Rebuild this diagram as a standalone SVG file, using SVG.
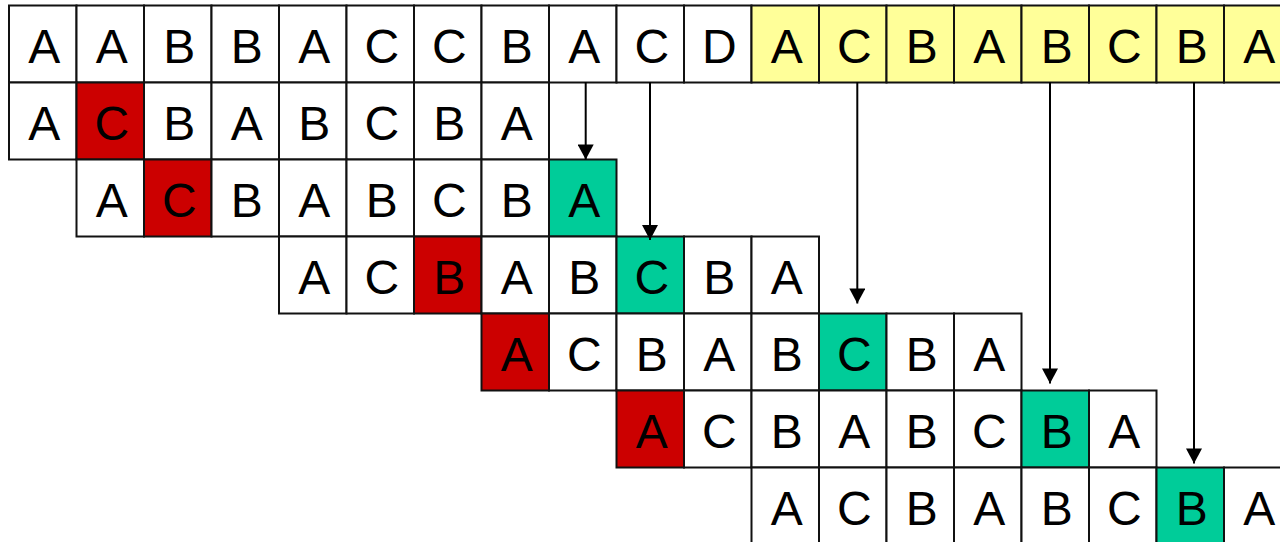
<svg xmlns="http://www.w3.org/2000/svg" width="1280" height="542" viewBox="0 0 1280 542">
<style>
rect{fill:#fff;stroke:#111;stroke-width:2}
rect.y{fill:#ffff99}
rect.r{fill:#cc0000}
rect.g{fill:#00cc99}
text{font-family:"Liberation Sans",Arial,sans-serif;font-size:48px;text-anchor:middle;fill:#000}
.conn line{stroke:#000;stroke-width:2}
</style>
<defs>
<marker id="ah" markerUnits="userSpaceOnUse" markerWidth="16" markerHeight="16" refX="14" refY="7.5" orient="auto" viewBox="0 0 14 15">
<path d="M0,0 L14,7.5 L0,15 Z" fill="#000"/>
</marker>
</defs>
<rect x="0" y="0" width="1280" height="542" style="fill:#fff;stroke:none"/>
<!-- Row 0 -->
<g id="r0c0"><rect x="9" y="5.5" width="67.5" height="77"/><text x="44.25" y="62.5">A</text></g>
<g id="r0c1"><rect x="76.5" y="5.5" width="67.5" height="77"/><text x="111.75" y="62.5">A</text></g>
<g id="r0c2"><rect x="144" y="5.5" width="67.5" height="77"/><text x="179.25" y="62.5">B</text></g>
<g id="r0c3"><rect x="211.5" y="5.5" width="67.5" height="77"/><text x="246.75" y="62.5">B</text></g>
<g id="r0c4"><rect x="279" y="5.5" width="67.5" height="77"/><text x="314.25" y="62.5">A</text></g>
<g id="r0c5"><rect x="346.5" y="5.5" width="67.5" height="77"/><text x="381.75" y="62.5">C</text></g>
<g id="r0c6"><rect x="414" y="5.5" width="67.5" height="77"/><text x="449.25" y="62.5">C</text></g>
<g id="r0c7"><rect x="481.5" y="5.5" width="67.5" height="77"/><text x="516.75" y="62.5">B</text></g>
<g id="r0c8"><rect x="549" y="5.5" width="67.5" height="77"/><text x="584.25" y="62.5">A</text></g>
<g id="r0c9"><rect x="616.5" y="5.5" width="67.5" height="77"/><text x="651.75" y="62.5">C</text></g>
<g id="r0c10"><rect x="684" y="5.5" width="67.5" height="77"/><text x="719.25" y="62.5">D</text></g>
<g id="r0c11"><rect class="y" x="751.5" y="5.5" width="67.5" height="77"/><text x="786.75" y="62.5">A</text></g>
<g id="r0c12"><rect class="y" x="819" y="5.5" width="67.5" height="77"/><text x="854.25" y="62.5">C</text></g>
<g id="r0c13"><rect class="y" x="886.5" y="5.5" width="67.5" height="77"/><text x="921.75" y="62.5">B</text></g>
<g id="r0c14"><rect class="y" x="954" y="5.5" width="67.5" height="77"/><text x="989.25" y="62.5">A</text></g>
<g id="r0c15"><rect class="y" x="1021.5" y="5.5" width="67.5" height="77"/><text x="1056.75" y="62.5">B</text></g>
<g id="r0c16"><rect class="y" x="1089" y="5.5" width="67.5" height="77"/><text x="1124.25" y="62.5">C</text></g>
<g id="r0c17"><rect class="y" x="1156.5" y="5.5" width="67.5" height="77"/><text x="1191.75" y="62.5">B</text></g>
<g id="r0c18"><rect class="y" x="1224" y="5.5" width="67.5" height="77"/><text x="1259.25" y="62.5">A</text></g>
<!-- Row 1 -->
<g id="r1c0"><rect x="9" y="82.5" width="67.5" height="77"/><text x="44.25" y="139.5">A</text></g>
<g id="r1c1"><rect class="r" x="76.5" y="82.5" width="67.5" height="77"/><text x="111.75" y="139.5">C</text></g>
<g id="r1c2"><rect x="144" y="82.5" width="67.5" height="77"/><text x="179.25" y="139.5">B</text></g>
<g id="r1c3"><rect x="211.5" y="82.5" width="67.5" height="77"/><text x="246.75" y="139.5">A</text></g>
<g id="r1c4"><rect x="279" y="82.5" width="67.5" height="77"/><text x="314.25" y="139.5">B</text></g>
<g id="r1c5"><rect x="346.5" y="82.5" width="67.5" height="77"/><text x="381.75" y="139.5">C</text></g>
<g id="r1c6"><rect x="414" y="82.5" width="67.5" height="77"/><text x="449.25" y="139.5">B</text></g>
<g id="r1c7"><rect x="481.5" y="82.5" width="67.5" height="77"/><text x="516.75" y="139.5">A</text></g>
<!-- Row 2 -->
<g id="r2c1"><rect x="76.5" y="159.5" width="67.5" height="77"/><text x="111.75" y="216.5">A</text></g>
<g id="r2c2"><rect class="r" x="144" y="159.5" width="67.5" height="77"/><text x="179.25" y="216.5">C</text></g>
<g id="r2c3"><rect x="211.5" y="159.5" width="67.5" height="77"/><text x="246.75" y="216.5">B</text></g>
<g id="r2c4"><rect x="279" y="159.5" width="67.5" height="77"/><text x="314.25" y="216.5">A</text></g>
<g id="r2c5"><rect x="346.5" y="159.5" width="67.5" height="77"/><text x="381.75" y="216.5">B</text></g>
<g id="r2c6"><rect x="414" y="159.5" width="67.5" height="77"/><text x="449.25" y="216.5">C</text></g>
<g id="r2c7"><rect x="481.5" y="159.5" width="67.5" height="77"/><text x="516.75" y="216.5">B</text></g>
<g id="r2c8"><rect class="g" x="549" y="159.5" width="67.5" height="77"/><text x="584.25" y="216.5">A</text></g>
<!-- Row 3 -->
<g id="r3c4"><rect x="279" y="236.5" width="67.5" height="77"/><text x="314.25" y="293.5">A</text></g>
<g id="r3c5"><rect x="346.5" y="236.5" width="67.5" height="77"/><text x="381.75" y="293.5">C</text></g>
<g id="r3c6"><rect class="r" x="414" y="236.5" width="67.5" height="77"/><text x="449.25" y="293.5">B</text></g>
<g id="r3c7"><rect x="481.5" y="236.5" width="67.5" height="77"/><text x="516.75" y="293.5">A</text></g>
<g id="r3c8"><rect x="549" y="236.5" width="67.5" height="77"/><text x="584.25" y="293.5">B</text></g>
<g id="r3c9"><rect class="g" x="616.5" y="236.5" width="67.5" height="77"/><text x="651.75" y="293.5">C</text></g>
<g id="r3c10"><rect x="684" y="236.5" width="67.5" height="77"/><text x="719.25" y="293.5">B</text></g>
<g id="r3c11"><rect x="751.5" y="236.5" width="67.5" height="77"/><text x="786.75" y="293.5">A</text></g>
<!-- Row 4 -->
<g id="r4c7"><rect class="r" x="481.5" y="313.5" width="67.5" height="77"/><text x="516.75" y="370.5">A</text></g>
<g id="r4c8"><rect x="549" y="313.5" width="67.5" height="77"/><text x="584.25" y="370.5">C</text></g>
<g id="r4c9"><rect x="616.5" y="313.5" width="67.5" height="77"/><text x="651.75" y="370.5">B</text></g>
<g id="r4c10"><rect x="684" y="313.5" width="67.5" height="77"/><text x="719.25" y="370.5">A</text></g>
<g id="r4c11"><rect x="751.5" y="313.5" width="67.5" height="77"/><text x="786.75" y="370.5">B</text></g>
<g id="r4c12"><rect class="g" x="819" y="313.5" width="67.5" height="77"/><text x="854.25" y="370.5">C</text></g>
<g id="r4c13"><rect x="886.5" y="313.5" width="67.5" height="77"/><text x="921.75" y="370.5">B</text></g>
<g id="r4c14"><rect x="954" y="313.5" width="67.5" height="77"/><text x="989.25" y="370.5">A</text></g>
<!-- Row 5 -->
<g id="r5c9"><rect class="r" x="616.5" y="390.5" width="67.5" height="77"/><text x="651.75" y="447.5">A</text></g>
<g id="r5c10"><rect x="684" y="390.5" width="67.5" height="77"/><text x="719.25" y="447.5">C</text></g>
<g id="r5c11"><rect x="751.5" y="390.5" width="67.5" height="77"/><text x="786.75" y="447.5">B</text></g>
<g id="r5c12"><rect x="819" y="390.5" width="67.5" height="77"/><text x="854.25" y="447.5">A</text></g>
<g id="r5c13"><rect x="886.5" y="390.5" width="67.5" height="77"/><text x="921.75" y="447.5">B</text></g>
<g id="r5c14"><rect x="954" y="390.5" width="67.5" height="77"/><text x="989.25" y="447.5">C</text></g>
<g id="r5c15"><rect class="g" x="1021.5" y="390.5" width="67.5" height="77"/><text x="1056.75" y="447.5">B</text></g>
<g id="r5c16"><rect x="1089" y="390.5" width="67.5" height="77"/><text x="1124.25" y="447.5">A</text></g>
<!-- Row 6 -->
<g id="r6c11"><rect x="751.5" y="467.5" width="67.5" height="77"/><text x="786.75" y="524.5">A</text></g>
<g id="r6c12"><rect x="819" y="467.5" width="67.5" height="77"/><text x="854.25" y="524.5">C</text></g>
<g id="r6c13"><rect x="886.5" y="467.5" width="67.5" height="77"/><text x="921.75" y="524.5">B</text></g>
<g id="r6c14"><rect x="954" y="467.5" width="67.5" height="77"/><text x="989.25" y="524.5">A</text></g>
<g id="r6c15"><rect x="1021.5" y="467.5" width="67.5" height="77"/><text x="1056.75" y="524.5">B</text></g>
<g id="r6c16"><rect x="1089" y="467.5" width="67.5" height="77"/><text x="1124.25" y="524.5">C</text></g>
<g id="r6c17"><rect class="g" x="1156.5" y="467.5" width="67.5" height="77"/><text x="1191.75" y="524.5">B</text></g>
<g id="r6c18"><rect x="1224" y="467.5" width="67.5" height="77"/><text x="1259.25" y="524.5">A</text></g>
<!-- Connectors -->
<g id="connectors" class="conn">
<line x1="585.7" y1="82" x2="585.7" y2="159.5" marker-end="url(#ah)"/>
<line x1="650" y1="82" x2="650" y2="240" marker-end="url(#ah)"/>
<line x1="857.3" y1="82" x2="857.3" y2="303.5" marker-end="url(#ah)"/>
<line x1="1050" y1="82" x2="1050" y2="383.5" marker-end="url(#ah)"/>
<line x1="1194" y1="82" x2="1194" y2="463.5" marker-end="url(#ah)"/>
</g>
</svg>
